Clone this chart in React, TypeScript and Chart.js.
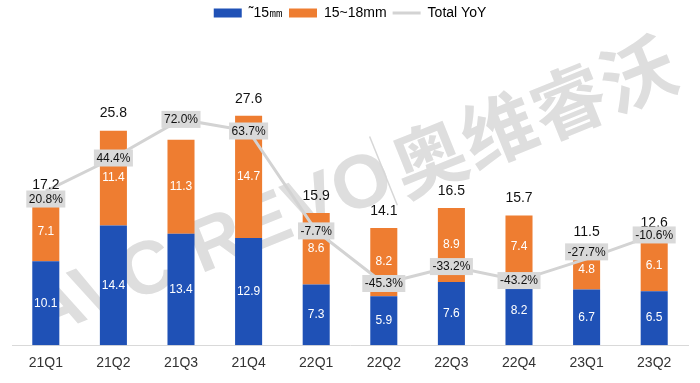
import React, { useEffect, useRef } from 'react';
import { Chart, registerables } from 'chart.js';
Chart.register(...registerables);

const categories = ['21Q1', '21Q2', '21Q3', '21Q4', '22Q1', '22Q2', '22Q3', '22Q4', '23Q1', '23Q2'];
const small = [10.1, 14.4, 13.4, 12.9, 7.3, 5.9, 7.6, 8.2, 6.7, 6.5];
const mid = [7.1, 11.4, 11.3, 14.7, 8.6, 8.2, 8.9, 7.4, 4.8, 6.1];
const totals = [17.2, 25.8, 24.7, 27.6, 15.9, 14.1, 16.5, 15.7, 11.5, 12.6];
const yoy = [20.8, 44.4, 72.0, 63.7, -7.7, -45.3, -33.2, -43.2, -27.7, -10.6];
const seriesNames = ['˜15㎜', '15~18mm', 'Total YoY'];

const BLUE = '#1F51B6';
const ORANGE = '#EE7D31';
const GREY_LINE = '#d3d3d3';
const FONT = '"Liberation Sans", Arial, sans-serif';
// label placement nudges (pixels) for a couple of YoY labels moved off their points
const yoyLabelNudge: Record<number, number> = { 0: 8, 8: -7 };

export default function App() {
  const ref = useRef<HTMLCanvasElement>(null);

  useEffect(() => {
    document.body.style.margin = '0';
    const canvas = ref.current;
    if (!canvas) return;

    const watermark = {
      id: 'watermark',
      beforeDatasetsDraw(chart: any) {
        const ctx = chart.ctx;
        ctx.save();
        ctx.translate(32, 342);
        ctx.rotate((-22 * Math.PI) / 180);
        ctx.fillStyle = 'rgb(222,222,222)';
        ctx.textBaseline = 'alphabetic';
        ctx.textAlign = 'left';
        ctx.font = `bold 75px ${FONT}`;
        ctx.fillText('AVC REVO', 8, 0);
        ctx.strokeStyle = 'rgb(215,215,215)';
        ctx.lineWidth = 1.5;
        ctx.beginPath();
        ctx.moveTo(390, 10);
        ctx.lineTo(390, -64);
        ctx.stroke();
        ctx.font = 'bold 74px "Noto Sans CJK SC"';
        const cjk = ['奥', '维', '睿', '沃'];
        cjk.forEach((c, i) => ctx.fillText(c, 400 + i * 75, 6));
        ctx.restore();
      },
    };

    const labels = {
      id: 'valueLabels',
      afterDatasetsDraw(chart: any) {
        const ctx = chart.ctx;
        const mS = chart.getDatasetMeta(0);
        const mM = chart.getDatasetMeta(1);
        const mL = chart.getDatasetMeta(2);
        ctx.save();
        ctx.textAlign = 'center';
        ctx.textBaseline = 'middle';
        ctx.font = `12px ${FONT}`;
        ctx.fillStyle = '#ffffff';
        mS.data.forEach((b: any, i: number) => {
          ctx.fillText(small[i].toFixed(1), b.x, (b.y + b.base) / 2);
        });
        mM.data.forEach((b: any, i: number) => {
          ctx.fillText(mid[i].toFixed(1), b.x, (b.y + b.base) / 2);
        });
        ctx.font = `14px ${FONT}`;
        ctx.fillStyle = '#111111';
        mM.data.forEach((b: any, i: number) => {
          ctx.fillText(totals[i].toFixed(1), b.x, b.y - 17);
        });
        ctx.font = `12px ${FONT}`;
        mL.data.forEach((p: any, i: number) => {
          const t = `${yoy[i].toFixed(1)}%`;
          const w = ctx.measureText(t).width + 5;
          const h = 17;
          const cy = p.y + (yoyLabelNudge[i] || 0);
          ctx.fillStyle = '#d9d9d9';
          ctx.fillRect(p.x - w / 2, cy - h / 2, w, h);
          ctx.fillStyle = '#111111';
          ctx.fillText(t, p.x, cy + 0.5);
        });
        ctx.restore();
      },
    };

    const chart = new Chart(canvas, {
      type: 'bar',
      data: {
        labels: categories,
        datasets: [
          {
            label: seriesNames[0],
            data: small,
            backgroundColor: BLUE,
            stack: 's',
            yAxisID: 'y',
            order: 1,
            barPercentage: 0.4,
            categoryPercentage: 1,
          },
          {
            label: seriesNames[1],
            data: mid,
            backgroundColor: ORANGE,
            stack: 's',
            yAxisID: 'y',
            order: 1,
            barPercentage: 0.4,
            categoryPercentage: 1,
          },
          {
            type: 'line',
            label: seriesNames[2],
            data: yoy,
            borderColor: GREY_LINE,
            borderWidth: 3,
            pointRadius: 0,
            tension: 0,
            yAxisID: 'y2',
            order: 0,
          } as any,
        ],
      },
      options: {
        animation: false,
        responsive: true,
        maintainAspectRatio: false,
        layout: { padding: { left: 12, right: 12, top: 0, bottom: 1 } },
        plugins: {
          tooltip: { enabled: false },
          legend: {
            display: true,
            position: 'top',
            labels: {
              usePointStyle: true,
              pointStyleWidth: 28,
              boxHeight: 9,
              padding: 6,
              color: '#333333',
              font: { family: FONT, size: 14 },
              generateLabels: () => [
                { text: seriesNames[0], fillStyle: BLUE, strokeStyle: BLUE, lineWidth: 0, pointStyle: 'rect', datasetIndex: 0 },
                { text: seriesNames[1], fillStyle: ORANGE, strokeStyle: ORANGE, lineWidth: 0, pointStyle: 'rect', datasetIndex: 1 },
                { text: seriesNames[2], fillStyle: GREY_LINE, strokeStyle: GREY_LINE, lineWidth: 3, pointStyle: 'line', datasetIndex: 2 },
              ] as any,
            },
          },
        },
        scales: {
          x: {
            stacked: true,
            grid: { display: false, drawTicks: false },
            border: { display: true, color: '#d9d9d9', width: 1 },
            ticks: { color: '#333333', font: { family: FONT, size: 14 }, padding: 10 },
          },
          y: { stacked: true, display: false, min: 0, max: 37.9 },
          y2: { display: false, min: -89.4, max: 135.9, position: 'right' },
        },
      },
      plugins: [watermark, labels],
    });

    return () => chart.destroy();
  }, []);

  return (
    <div style={{ width: 700, height: 383, position: 'relative' }}>
      <canvas ref={ref} />
    </div>
  );
}
